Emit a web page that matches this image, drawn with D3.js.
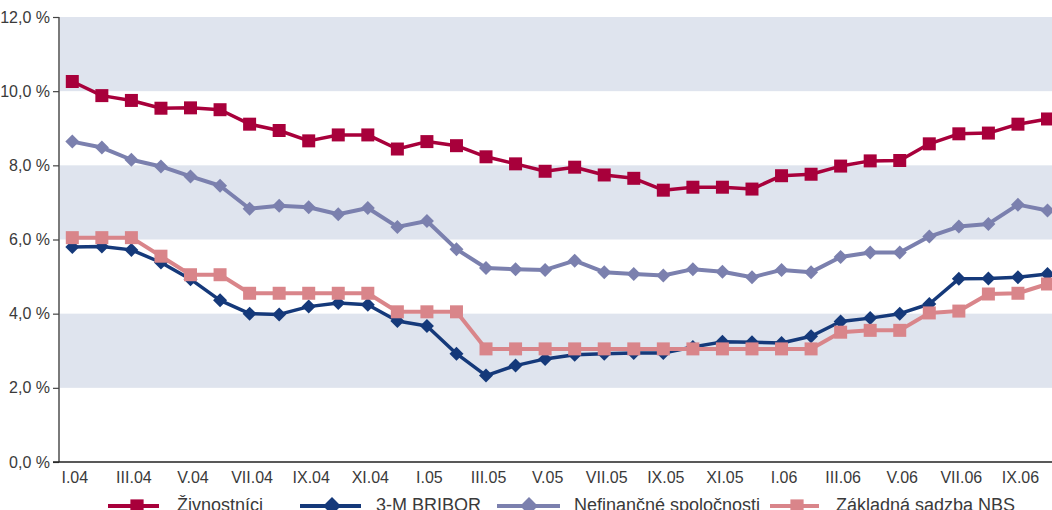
<!DOCTYPE html>
<html>
<head>
<meta charset="utf-8">
<script src="https://cdn.jsdelivr.net/npm/d3@7/dist/d3.min.js"></script>
<style>
  html, body { margin: 0; padding: 0; background: #fff; overflow: hidden; }
  svg { display: block; }
  text { font-family: 'Liberation Sans Narrow', 'Arial Narrow', sans-serif; fill: #3a3a3a; }
</style>
</head>
<body>
<svg id="chart" width="1052" height="510"></svg>
<script>
// Months January 2004 – October 2006
const months = [
  "I.04","II.04","III.04","IV.04","V.04","VI.04","VII.04","VIII.04","IX.04","X.04","XI.04","XII.04",
  "I.05","II.05","III.05","IV.05","V.05","VI.05","VII.05","VIII.05","IX.05","X.05","XI.05","XII.05",
  "I.06","II.06","III.06","IV.06","V.06","VI.06","VII.06","VIII.06","IX.06","X.06"
];
// Every other month is labelled
const tickLabels = ["I.04","III.04","V.04","VII.04","IX.04","XI.04","I.05","III.05","V.05","VII.05","IX.05","XI.05","I.06","III.06","V.06","VII.06","IX.06"];
const yTicks = [0, 2, 4, 6, 8, 10, 12];

const zivnostnici = [10.26, 9.88, 9.75, 9.54, 9.55, 9.50, 9.11, 8.94, 8.66, 8.82, 8.82, 8.44,
  8.64, 8.53, 8.23, 8.04, 7.84, 7.95, 7.74, 7.65, 7.33, 7.41, 7.41, 7.36,
  7.72, 7.76, 7.98, 8.12, 8.13, 8.58, 8.85, 8.87, 9.11, 9.25];
const bribor = [5.80, 5.81, 5.72, 5.38, 4.93, 4.36, 4.00, 3.98, 4.19, 4.29, 4.24, 3.80,
  3.67, 2.92, 2.33, 2.60, 2.78, 2.89, 2.92, 2.94, 2.94, 3.10, 3.24, 3.23,
  3.21, 3.39, 3.79, 3.88, 4.00, 4.26, 4.94, 4.95, 4.98, 5.07];
const nefinancne = [8.64, 8.48, 8.15, 7.97, 7.70, 7.45, 6.83, 6.91, 6.87, 6.68, 6.85, 6.34,
  6.50, 5.74, 5.23, 5.20, 5.18, 5.43, 5.12, 5.07, 5.03, 5.20, 5.13, 4.98,
  5.18, 5.12, 5.53, 5.65, 5.65, 6.08, 6.35, 6.42, 6.94, 6.78];
const zakladna = [6.05, 6.05, 6.05, 5.55, 5.05, 5.05, 4.55, 4.55, 4.55, 4.55, 4.55, 4.05,
  4.05, 4.05, 3.05, 3.05, 3.05, 3.05, 3.05, 3.05, 3.05, 3.05, 3.05, 3.05,
  3.05, 3.05, 3.50, 3.55, 3.55, 4.02, 4.07, 4.53, 4.55, 4.80];

const seriesNames = ["Živnostníci", "3-M BRIBOR", "Nefinančné spoločnosti", "Základná sadzba NBS"];

const series = [
  { name: seriesNames[0], values: zivnostnici, color: "#a8003b", shape: "square", width: 3.5 },
  { name: seriesNames[1], values: bribor,      color: "#15397a", shape: "diamond", width: 3.5 },
  { name: seriesNames[2], values: nefinancne,  color: "#7b80ae", shape: "diamond", width: 4 },
  { name: seriesNames[3], values: zakladna,    color: "#d9858a", shape: "square", width: 4 }
];

const svg = d3.select("#chart");
const axisX = 59, plotTop = 17, plotBottom = 462;

const x = d3.scalePoint().domain(months).range([72.3, 1047.5]);
const y = d3.scaleLinear().domain([0, 12]).range([plotBottom, plotTop]);

// Alternating horizontal bands
const bands = [[10, 12], [6, 8], [2, 4]];
svg.append("g").selectAll("rect").data(bands).join("rect")
  .attr("x", axisX).attr("width", 1052 - axisX)
  .attr("y", d => y(d[1])).attr("height", d => y(d[0]) - y(d[1]))
  .attr("fill", "#dfe4ee");

// Y axis
const yAxis = svg.append("g").attr("transform", `translate(${axisX},0)`)
  .call(d3.axisLeft(y).tickValues(yTicks).tickSize(6).tickPadding(3)
    .tickFormat(d => d3.format(".1f")(d).replace(".", ",") + " %"));
yAxis.select(".domain").attr("stroke", "#7a7a7a").attr("stroke-width", 2)
  .attr("d", `M0,${plotTop}V${plotBottom}`);
yAxis.selectAll(".tick line").attr("stroke", "#444").attr("stroke-width", 1.2);
yAxis.selectAll(".tick text").attr("font-size", 16).attr("fill", "#3a3a3a");

// X axis
const xAxis = svg.append("g").attr("transform", `translate(0,${plotBottom})`)
  .call(d3.axisBottom(x).tickValues(tickLabels).tickSize(0).tickPadding(10));
xAxis.select(".domain").attr("stroke", "#222").attr("stroke-width", 1.5)
  .attr("d", `M${axisX - 6},0H1052`);
xAxis.selectAll(".tick text").attr("font-size", 16).attr("fill", "#3a3a3a")
  .attr("dx", 2);

// Square-on-point diamond (rotated square) symbol
const rotatedSquare = {
  draw(context, size) {
    const r = Math.sqrt(size / 2);
    context.moveTo(0, -r);
    context.lineTo(r, 0);
    context.lineTo(0, r);
    context.lineTo(-r, 0);
    context.closePath();
  }
};
function markerPath(shape, big) {
  return shape === "square"
    ? d3.symbol().type(d3.symbolSquare).size(big ? 175 : 169)()
    : d3.symbol().type(rotatedSquare).size(big ? 160 : 98)();
}

const line = d3.line().x((d, i) => x(months[i])).y(d => y(d));

// Series lines and markers
series.forEach(s => {
  const g = svg.append("g");
  g.append("path").attr("d", line(s.values))
    .attr("fill", "none").attr("stroke", s.color).attr("stroke-width", s.width)
    .attr("stroke-linejoin", "round");
  g.selectAll("path.m").data(s.values).join("path").attr("class", "m")
    .attr("d", markerPath(s.shape, false))
    .attr("transform", (d, i) => `translate(${x(months[i])},${y(d)})`)
    .attr("fill", s.color);
});

// Legend
const legendPos = [
  { x1: 108, x2: 159, mx: 137, tx: 177 },
  { x1: 300, x2: 361, mx: 332, tx: 376 },
  { x1: 497, x2: 560, mx: 529, tx: 574 },
  { x1: 770, x2: 819, mx: 797, tx: 836 }
];
const legendY = 506;
series.forEach((s, i) => {
  const p = legendPos[i];
  const g = svg.append("g");
  g.append("line").attr("x1", p.x1).attr("x2", p.x2).attr("y1", legendY).attr("y2", legendY)
    .attr("stroke", s.color).attr("stroke-width", 4);
  g.append("path").attr("d", markerPath(s.shape, true))
    .attr("transform", `translate(${p.mx},${legendY})`).attr("fill", s.color);
  g.append("text").attr("x", p.tx).attr("y", legendY + 5)
    .attr("font-size", 18).text(s.name);
});
</script>
</body>
</html>
